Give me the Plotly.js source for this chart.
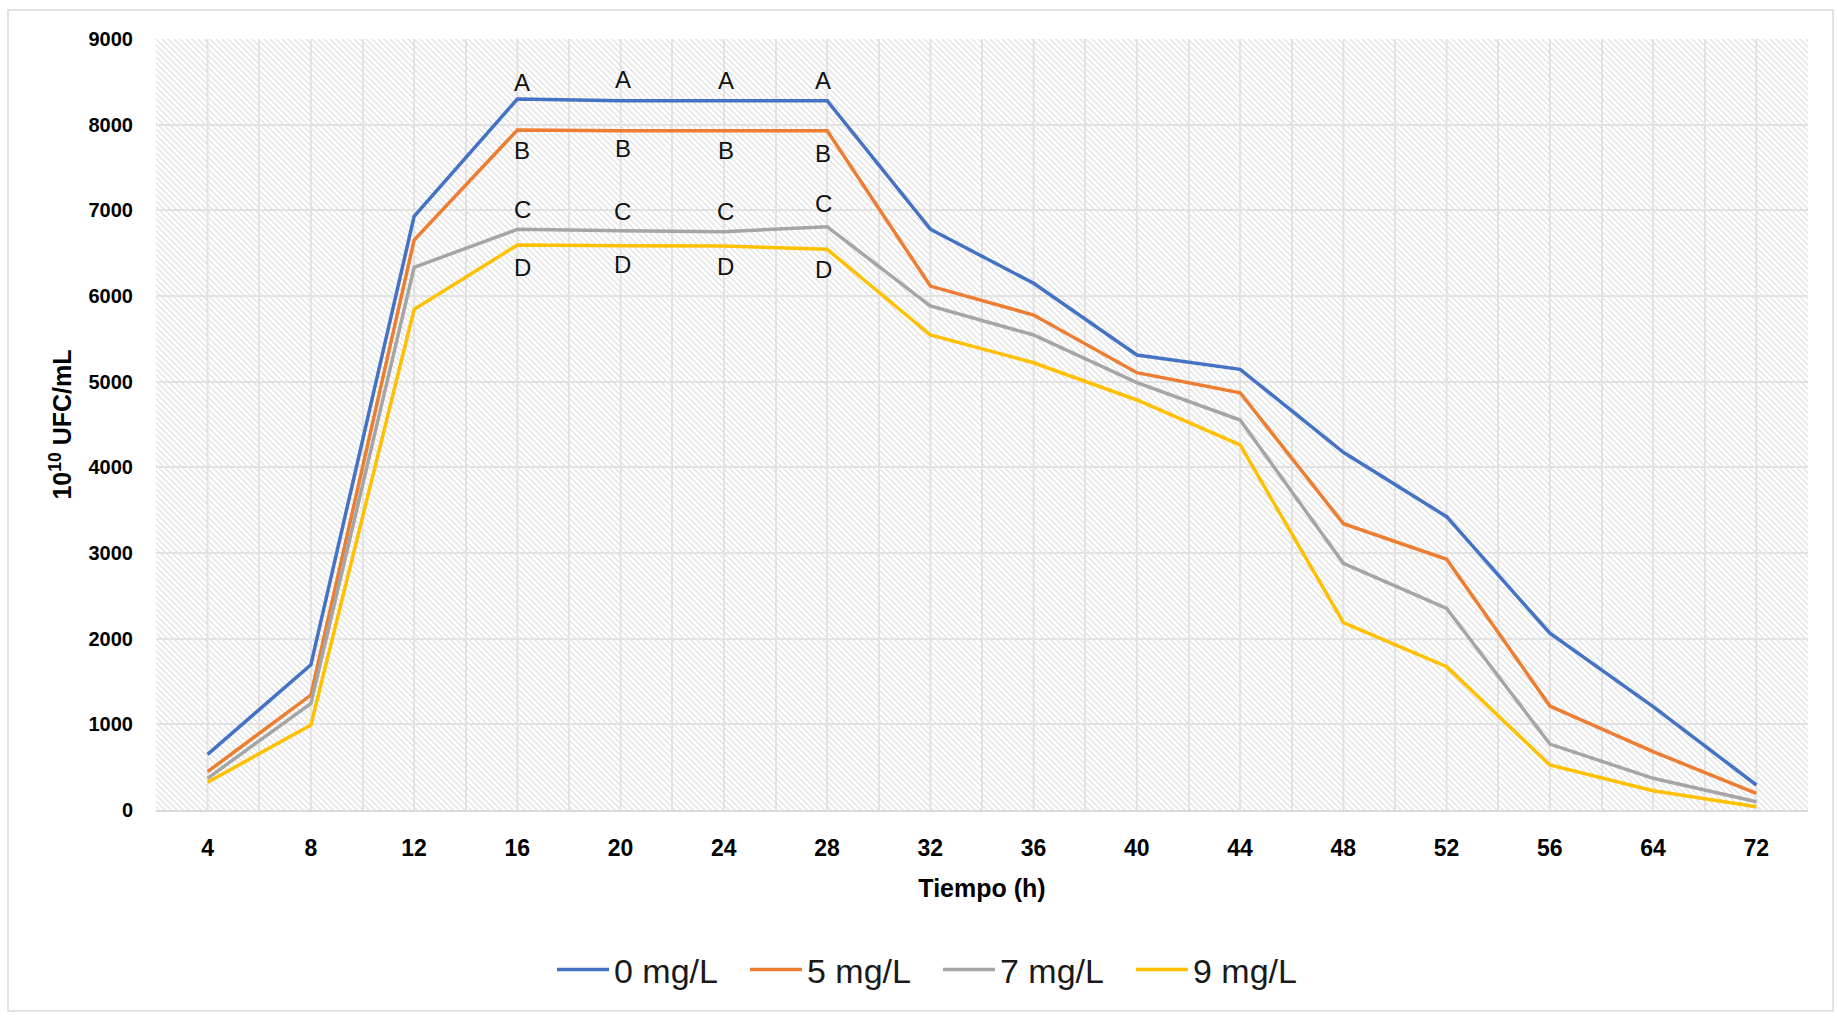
<!DOCTYPE html>
<html>
<head>
<meta charset="utf-8">
<script src="https://cdn.plot.ly/plotly-3.0.1.min.js"></script>
<style>html,body{margin:0;padding:0;background:#fff;}#chart{width:1837px;height:1016px;}</style>
</head>
<body>
<div id="chart"></div>
<script>
// ---- data ----
const tiempo = ['4','8','12','16','20','24','28','32','36','40','44','48','52','56','64','72'];
const seriesNames = ['0 mg/L','5 mg/L','7 mg/L','9 mg/L'];
const ufc0 = [650,1695,6930,8300,8280,8280,8280,6780,6148,5311,5144,4175,3424,2063,1206,292];
const ufc5 = [447,1342,6653,7937,7930,7930,7930,6116,5778,5105,4871,3342,2926,1214,681,195];
const ufc7 = [370,1245,6335,6778,6762,6751,6809,5883,5545,4988,4552,2879,2354,770,370,97];
const ufc9 = [323,992,5844,6595,6587,6583,6545,5545,5221,4786,4261,2187,1673,525,225,39];
const letterCats = ['16','20','24','28'];
const letters = ['A','B','C','D'];
const letterA = [8490,8522,8510,8510];
const letterB = [7696,7724,7696,7665];
const letterC = [7015,6992,6992,7074];
const letterD = [6335,6362,6342,6311];
const yTicks = [0,1000,2000,3000,4000,5000,6000,7000,8000,9000];

// ---- styling ----
const colors = ['#4472C4','#ED7D31','#A5A5A5','#FFC000'];
const FONT = 'Liberation Sans, Arial, sans-serif';
const allSeries = [ufc0, ufc5, ufc7, ufc9];
const letterYs = [letterA, letterB, letterC, letterD];
const letterShift = [5, 2, 2, -4];
// category axes take positions as category serial numbers
const catIndex = c => tiempo.indexOf(c);

const traces = allSeries.map((ys, i) => ({
  type: 'scatter', mode: 'lines', name: seriesNames[i],
  x: tiempo, y: ys,
  line: {color: colors[i], width: 3.5},
  hoverinfo: 'x+y+name'
}));

const annotations = [];
letters.forEach((txt, r) => {
  letterCats.forEach((c, j) => {
    annotations.push({
      x: catIndex(c), y: letterYs[r][j], xref: 'x', yref: 'y', text: txt, showarrow: false,
      xshift: letterShift[j],
      font: {family: FONT, size: 24, color: '#111111'}
    });
  });
});

// hatch background for plot area
const PL = 156, PT = 39, PW = 1652, PH = 771;
const hatchSvg = "<svg xmlns='http://www.w3.org/2000/svg' width='" + PW + "' height='" + PH + "'>" +
  "<defs><pattern id='p' width='6' height='6' patternUnits='userSpaceOnUse'>" +
  "<path d='M-1,-1 L7,7 M-1,5 L1,7 M5,-1 L7,1' stroke='#dcdcdc' stroke-width='1.1'/></pattern></defs>" +
  "<rect width='100%' height='100%' fill='url(#p)'/></svg>";
const hatchSrc = 'data:image/svg+xml;charset=utf-8,' + encodeURIComponent(hatchSvg);

// category-centre grid lines (in addition to boundary grid lines)
const centreLines = tiempo.map(c => ({
  type: 'line', xref: 'x', yref: 'paper', x0: catIndex(c), x1: catIndex(c), y0: 0, y1: 1,
  line: {color: '#e2e2e2', width: 2}, layer: 'below'
}));
// outer chart border
const border = {
  type: 'rect', xref: 'paper', yref: 'paper',
  x0: (8 - PL) / PW, x1: (1833 - PL) / PW,
  y0: 1 - (1011 - PT) / PH, y1: 1 + (PT - 10) / PH,
  line: {color: '#d9d9d9', width: 1.5}, fillcolor: 'rgba(0,0,0,0)', layer: 'below'
};

const layout = {
  width: 1837, height: 1016,
  margin: {l: 156, r: 29, t: 39, b: 206, pad: 0},
  paper_bgcolor: '#ffffff',
  plot_bgcolor: 'rgba(0,0,0,0)',
  showlegend: true,
  font: {family: FONT, color: '#000000'},
  xaxis: {
    type: 'category', range: [-0.5, 15.5],
    tickson: 'boundaries', showgrid: true, gridcolor: '#e2e2e2', gridwidth: 2,
    ticks: '', ticklabelstandoff: 16,
    tickfont: {family: FONT, size: 23, color: '#000000', weight: 'bold'},
    showline: true, linecolor: '#d9d9d9', linewidth: 2, zeroline: false,
    title: {text: '<b>Tiempo (h)</b>', font: {family: FONT, size: 25, color: '#000000'}, standoff: 20}
  },
  yaxis: {
    range: [0, 9000], tickmode: 'array', tickvals: yTicks,
    showgrid: true, gridcolor: '#e2e2e2', gridwidth: 2, zeroline: false,
    ticks: '', ticklabelstandoff: 22,
    tickfont: {family: FONT, size: 20, color: '#000000', weight: 'bold'},
    showline: false,
    title: {text: '<b>10<sup>10</sup> UFC/mL</b>', font: {family: FONT, size: 25, color: '#000000'}, standoff: 9}
  },
  legend: {
    orientation: 'h', x: (552 - PL) / PW, xanchor: 'left',
    y: -(970 - 810) / PH, yanchor: 'middle',
    font: {family: FONT, size: 34, color: '#1a1a1a'},
    itemwidth: 52, entrywidth: 126, bgcolor: 'rgba(0,0,0,0)', traceorder: 'normal'
  },
  images: [{source: hatchSrc, xref: 'paper', yref: 'paper', x: 0, y: 1, sizex: 1, sizey: 1,
    xanchor: 'left', yanchor: 'top', sizing: 'stretch', layer: 'below'}],
  shapes: centreLines.concat([border]),
  annotations: annotations
};

Plotly.newPlot('chart', traces, layout, {staticPlot: true, displayModeBar: false});
</script>
</body>
</html>
